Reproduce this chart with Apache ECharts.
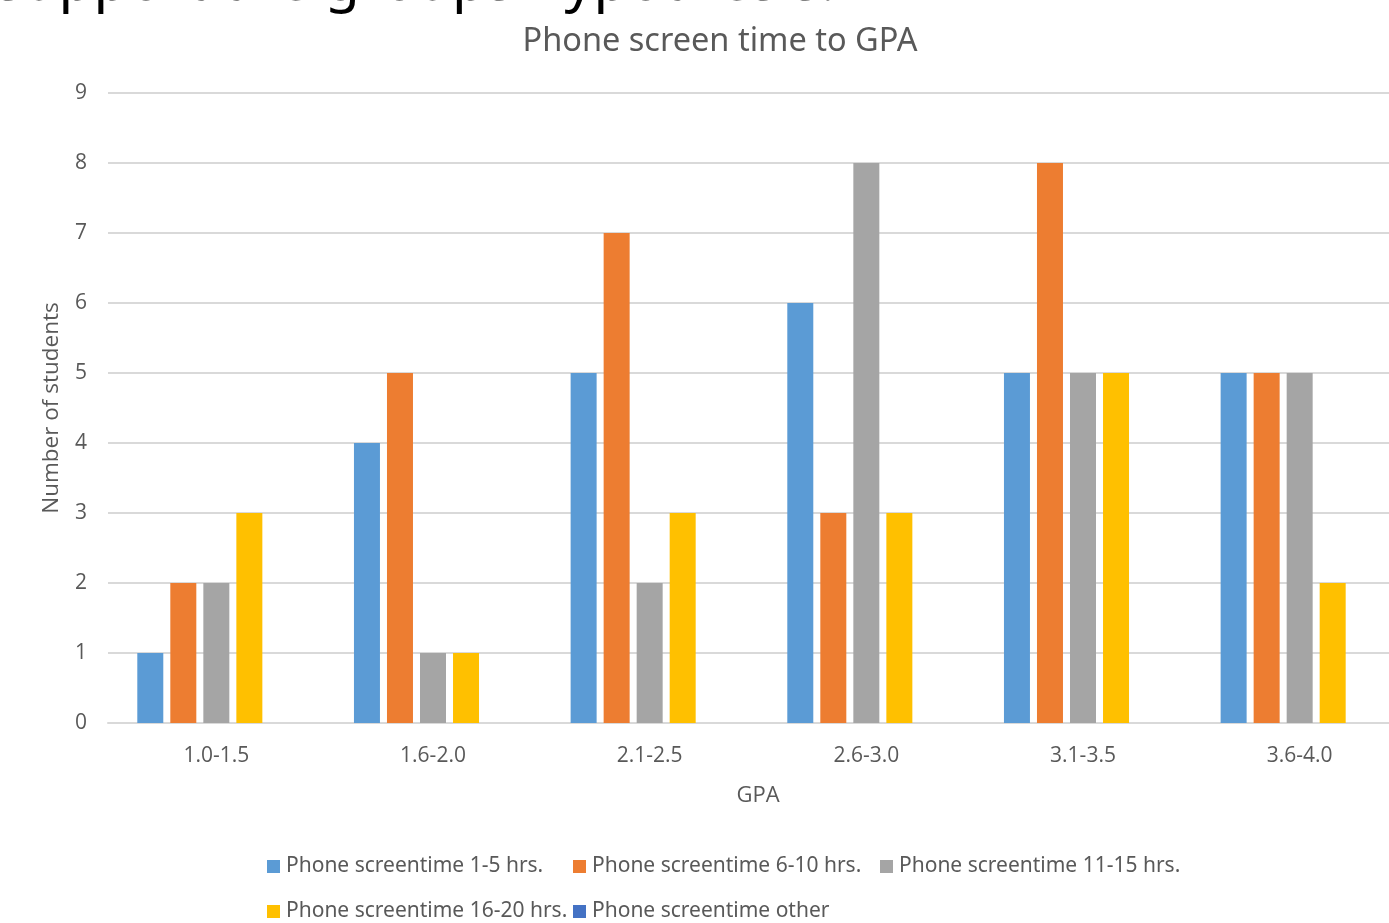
<!DOCTYPE html>
<html>
<head>
<meta charset="utf-8">
<script src="https://cdn.jsdelivr.net/npm/echarts@6/dist/echarts.min.js"></script>
<style>
  html, body { margin: 0; padding: 0; background: #fff; }
  #chart { width: 1389px; height: 923px; }
</style>
</head>
<body>
<div id="chart"></div>
<script>
// GPA bands on the x axis
const gpaBands = ['1.0-1.5', '1.6-2.0', '2.1-2.5', '2.6-3.0', '3.1-3.5', '3.6-4.0'];

// Number of students per screen-time group
const screen1to5 = [1, 4, 5, 6, 5, 5];
const screen6to10 = [2, 5, 7, 3, 8, 5];
const screen11to15 = [2, 1, 2, 8, 5, 5];
const screen16to20 = [3, 1, 3, 3, 5, 2];
const screenOther = [null, null, null, null, null, null];

const seriesNames = [
  'Phone screentime 1-5 hrs.',
  'Phone screentime 6-10 hrs.',
  'Phone screentime 11-15 hrs.',
  'Phone screentime 16-20 hrs.',
  'Phone screentime other'
];
const seriesData = [screen1to5, screen6to10, screen11to15, screen16to20, screenOther];
const colors = ['#5B9BD5', '#ED7D31', '#A5A5A5', '#FFC000', '#4472C4'];

const yTicks = [0, 1, 2, 3, 4, 5, 6, 7, 8, 9];

const narrow = '"Liberation Sans Narrow", "Noto Sans", sans-serif';
const axisFont = '"Open Sans", sans-serif';
const labelGray = '#595959';

// legend laid out in equal-width columns, two rows
const legendPos = [
  { left: 262, top: 851 },
  { left: 568, top: 851 },
  { left: 875, top: 851 },
  { left: 262, top: 896 },
  { left: 568, top: 896 }
];

const chart = echarts.init(document.getElementById('chart'));
chart.setOption({
  animation: false,
  color: colors,
  title: {
    text: 'Phone screen time to GPA',
    left: 715,
    top: 20,
    textAlign: 'center',
    textStyle: { fontFamily: narrow, fontWeight: 'normal', fontSize: 32.5, color: labelGray }
  },
  graphic: [{
    type: 'text',
    x: -4,
    y: 12,
    silent: true,
    style: {
      text: 'support the groups hypothesis.',
      fontFamily: narrow,
      fontSize: 57,
      fill: '#000',
      verticalAlign: 'bottom'
    }
  }],
  legend: legendPos.map((p, i) => ({
    data: [seriesNames[i]],
    left: p.left,
    top: p.top,
    itemWidth: 13,
    itemHeight: 13,
    icon: 'rect',
    itemGap: 6,
    textStyle: { fontFamily: narrow, fontSize: 21, color: labelGray, padding: [0, 0, 0, 1] }
  })),
  grid: { left: 108, top: 93, width: 1300, height: 630, containLabel: false, outerBoundsMode: 'none' },
  xAxis: {
    type: 'category',
    data: gpaBands,
    name: 'GPA',
    nameLocation: 'middle',
    nameGap: 62,
    nameTextStyle: { fontFamily: axisFont, fontSize: 22, color: labelGray },
    axisLine: { lineStyle: { color: '#D9D9D9', width: 2 } },
    axisTick: { show: false },
    axisLabel: { fontFamily: axisFont, fontSize: 21, color: labelGray, margin: 23 }
  },
  yAxis: {
    type: 'value',
    min: 0,
    max: yTicks[yTicks.length - 1],
    interval: 1,
    name: 'Number of students',
    nameLocation: 'middle',
    nameGap: 45,
    nameTextStyle: { fontFamily: axisFont, fontSize: 22.5, color: labelGray },
    axisLine: { show: false },
    axisTick: { show: false },
    axisLabel: { fontFamily: axisFont, fontSize: 21, color: labelGray, margin: 21 },
    splitLine: { lineStyle: { color: '#D9D9D9', width: 2 } }
  },
  series: seriesNames.map((name, i) => ({
    name,
    type: 'bar',
    data: seriesData[i],
    barWidth: 26,
    barGap: '27%',
    itemStyle: { color: colors[i] }
  }))
});
</script>
</body>
</html>
